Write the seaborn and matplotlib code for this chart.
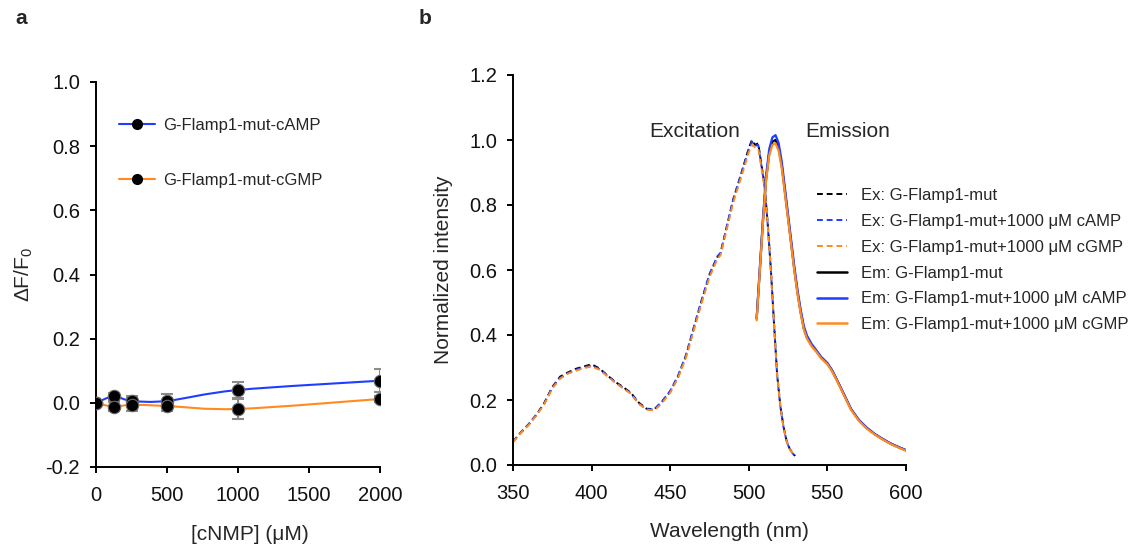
import numpy as np
import pandas as pd
import matplotlib
matplotlib.use("Agg")
import matplotlib.pyplot as plt
from matplotlib.path import Path
from matplotlib.patches import PathPatch
from matplotlib.lines import Line2D
import seaborn as sns

# ---------------- data: panel a ----------------
conc = [0, 125, 250, 500, 1000, 2000]
camp = [0.0, 0.020, 0.006, 0.006, 0.040, 0.069]
camp_err = [0.004, 0.012, 0.015, 0.020, 0.025, 0.035]
cgmp = [0.0, -0.012, -0.006, -0.010, -0.019, 0.012]
cgmp_err = [0.004, 0.015, 0.021, 0.014, 0.031, 0.010]

# ---------------- data: panel b ----------------
ex_wl = [350, 355, 360, 365, 370, 375, 380, 385, 390, 395, 400, 405, 410, 415,
         420, 425, 430, 435, 440, 445, 450, 455, 460, 465, 470, 475, 480, 482,
         485, 490, 495, 500, 502, 504, 506, 508, 510, 512, 514, 516, 518, 520,
         522, 524, 526, 528, 529.5]
ex_mut = [0.072, 0.100, 0.125, 0.155, 0.192, 0.240, 0.272, 0.285, 0.296, 0.303,
          0.310, 0.297, 0.276, 0.256, 0.240, 0.222, 0.192, 0.173, 0.172, 0.196,
          0.226, 0.272, 0.335, 0.420, 0.505, 0.585, 0.640, 0.652, 0.712, 0.815,
          0.893, 0.975, 1.000, 0.985, 0.990, 0.925, 0.862, 0.745, 0.605, 0.440,
          0.280, 0.185, 0.120, 0.075, 0.050, 0.036, 0.028]
ex_camp = [0.072, 0.101, 0.126, 0.156, 0.190, 0.238, 0.268, 0.283, 0.293, 0.301,
           0.306, 0.295, 0.275, 0.255, 0.238, 0.221, 0.190, 0.172, 0.170, 0.197,
           0.228, 0.275, 0.338, 0.424, 0.508, 0.588, 0.642, 0.652, 0.713, 0.816,
           0.893, 0.972, 0.995, 0.982, 0.985, 0.922, 0.860, 0.743, 0.603, 0.438,
           0.278, 0.183, 0.119, 0.074, 0.049, 0.035, 0.027]
ex_cgmp = [0.070, 0.099, 0.123, 0.153, 0.188, 0.236, 0.266, 0.281, 0.290, 0.298,
           0.303, 0.293, 0.273, 0.253, 0.236, 0.219, 0.188, 0.170, 0.168, 0.192,
           0.222, 0.268, 0.330, 0.414, 0.498, 0.578, 0.634, 0.645, 0.705, 0.806,
           0.883, 0.962, 0.985, 0.978, 0.975, 0.915, 0.855, 0.740, 0.600, 0.437,
           0.277, 0.183, 0.119, 0.074, 0.049, 0.035, 0.027]

em_wl = [505, 507, 509, 511, 513, 515, 517, 519, 521, 523, 525, 527, 529, 531,
         533, 535, 537, 540, 543, 546, 550, 553, 556, 560, 565, 570, 575, 580,
         585, 590, 595, 600]
em_mut = [0.450, 0.600, 0.750, 0.880, 0.960, 0.995, 1.000, 0.975, 0.920, 0.840,
          0.760, 0.680, 0.600, 0.530, 0.470, 0.420, 0.392, 0.368, 0.350, 0.330,
          0.312, 0.290, 0.262, 0.222, 0.172, 0.138, 0.114, 0.095, 0.080, 0.066,
          0.055, 0.045]
em_camp = [0.452, 0.605, 0.758, 0.890, 0.972, 1.008, 1.015, 0.990, 0.932, 0.852,
           0.770, 0.690, 0.610, 0.538, 0.478, 0.428, 0.398, 0.372, 0.353, 0.333,
           0.314, 0.292, 0.263, 0.223, 0.173, 0.139, 0.115, 0.096, 0.081, 0.067,
           0.056, 0.046]
em_cgmp = [0.445, 0.595, 0.745, 0.875, 0.953, 0.985, 0.990, 0.966, 0.912, 0.834,
           0.755, 0.675, 0.596, 0.526, 0.466, 0.417, 0.389, 0.365, 0.348, 0.328,
           0.310, 0.288, 0.260, 0.220, 0.170, 0.136, 0.112, 0.094, 0.079, 0.065,
           0.054, 0.044]

BLUE = "#1f3dff"
ORANGE = "#ff8a1f"
BLACK = "#000000"

sns.set_theme(style="ticks")
plt.rcParams["font.family"] = ["Liberation Sans", "DejaVu Sans"]
plt.rcParams["mathtext.fontset"] = "custom"
plt.rcParams["mathtext.rm"] = "Liberation Sans"
plt.rcParams["mathtext.it"] = "Liberation Sans:italic"
plt.rcParams["axes.unicode_minus"] = False

fig = plt.figure(figsize=(11.33, 5.46), dpi=100)
axa = fig.add_axes([96 / 1133, 1 - 467 / 546, 284 / 1133, 385 / 546])
axb = fig.add_axes([513 / 1133, 1 - 465 / 546, 393 / 1133, 390 / 546])

TICK = 14.5
for ax in (axa, axb):
    for s in ("top", "right"):
        ax.spines[s].set_visible(False)
    for s in ("left", "bottom"):
        ax.spines[s].set_linewidth(1.4)
        ax.spines[s].set_color("black")
    ax.tick_params(axis="both", direction="out", length=4.5, width=1.4,
                   color="black", labelsize=TICK, pad=7, labelcolor="#111111")
    ax.tick_params(axis="x", pad=9)
    ax.set_facecolor("white")


def smooth_path(xs, ys):
    """Excel-like smoothed line rendered as cubic Bezier segments."""
    P = np.column_stack([xs, ys]).astype(float)
    n = len(P)
    verts = [P[0]]
    codes = [Path.MOVETO]
    for i in range(n - 1):
        p0 = P[i - 1] if i > 0 else P[i]
        p1 = P[i]
        p2 = P[i + 1]
        p3 = P[i + 2] if i + 2 < n else P[i + 1]
        c1 = p1 + (p2 - p0) / 6.0
        c2 = p2 - (p3 - p1) / 6.0
        verts += [c1, c2, p2]
        codes += [Path.CURVE4] * 3
    return Path(verts, codes)


# ---------------- panel a ----------------
for y, col in ((camp, BLUE), (cgmp, ORANGE)):
    axa.add_patch(PathPatch(smooth_path(conc, y), facecolor="none",
                            edgecolor=col, lw=1.5, zorder=2))
for y, e in ((camp, camp_err), (cgmp, cgmp_err)):
    axa.errorbar(conc, y, yerr=e, fmt="none", ecolor="#8c8c8c", elinewidth=1.5,
                 capsize=4.5, capthick=1.5, zorder=3)
dfa = pd.DataFrame({"conc": conc * 2, "val": camp + cgmp})
sns.scatterplot(data=dfa, x="conc", y="val", ax=axa, color="black", s=80,
                edgecolor="#6a6a6a", linewidth=0.8, zorder=4, legend=False)

axa.set_xlim(0, 2000)
axa.set_ylim(-0.2, 1.0)
axa.set_xticks([0, 500, 1000, 1500, 2000])
axa.set_yticks([-0.2, 0.0, 0.2, 0.4, 0.6, 0.8, 1.0])
axa.set_yticklabels(["-0.2", "0.0", "0.2", "0.4", "0.6", "0.8", "1.0"])
axa.set_xlabel("[cNMP] (μM)", fontsize=15)
axa.set_ylabel("ΔF/F$_0$", fontsize=15)
axa.xaxis.set_label_coords(0.542, -0.15)
axa.yaxis.set_label_coords(-0.215, 0.5)

ha = [Line2D([], [], color=BLUE, lw=1.5, marker="o", markersize=7,
             markerfacecolor="black", markeredgecolor="black"),
      Line2D([], [], color=ORANGE, lw=1.5, marker="o", markersize=7,
             markerfacecolor="black", markeredgecolor="black")]
axa.legend(ha, ["G-Flamp1-mut-cAMP", "G-Flamp1-mut-cGMP"], loc="upper left",
           bbox_to_anchor=(0.08, 0.907), frameon=False, fontsize=12,
           handlelength=2.2, handletextpad=0.45, labelspacing=2.41,
           borderpad=0, borderaxespad=0, numpoints=1)

# ---------------- panel b ----------------
ex_series = [("Ex: G-Flamp1-mut", ex_mut, BLACK),
             ("Ex: G-Flamp1-mut+1000 μM cAMP", ex_camp, BLUE),
             ("Ex: G-Flamp1-mut+1000 μM cGMP", ex_cgmp, ORANGE)]
em_series = [("Em: G-Flamp1-mut", em_mut, BLACK),
             ("Em: G-Flamp1-mut+1000 μM cAMP", em_camp, BLUE),
             ("Em: G-Flamp1-mut+1000 μM cGMP", em_cgmp, ORANGE)]

handles = []
labels = []
for lab, vals, col in ex_series:
    d = pd.DataFrame({"wl": ex_wl, "I": vals})
    sns.lineplot(data=d, x="wl", y="I", ax=axb, color=col, lw=1.4,
                 sort=False, estimator=None, legend=False,
                 dashes=False, linestyle=(0, (3, 2)))
    handles.append(Line2D([], [], color=col, lw=1.4, linestyle=(0, (3, 2))))
    labels.append(lab)
for lab, vals, col in em_series:
    d = pd.DataFrame({"wl": em_wl, "I": vals})
    sns.lineplot(data=d, x="wl", y="I", ax=axb, color=col, lw=1.6,
                 sort=False, estimator=None, legend=False)
    handles.append(Line2D([], [], color=col, lw=1.8))
    labels.append(lab)

axb.set_xlim(350, 600)
axb.set_ylim(0, 1.2)
axb.set_xticks([350, 400, 450, 500, 550, 600])
axb.set_yticks([0.0, 0.2, 0.4, 0.6, 0.8, 1.0, 1.2])
axb.set_yticklabels(["0.0", "0.2", "0.4", "0.6", "0.8", "1.0", "1.2"])
axb.set_xlabel("Wavelength (nm)", fontsize=15)
axb.set_ylabel("Normalized intensity", fontsize=15)
axb.xaxis.set_label_coords(0.55, -0.145)
axb.yaxis.set_label_coords(-0.152, 0.5)

axb.text(0.463, 0.856, "Excitation", transform=axb.transAxes, fontsize=15,
         ha="center", va="center")
axb.text(0.852, 0.856, "Emission", transform=axb.transAxes, fontsize=15,
         ha="center", va="center")

axb.legend(handles, labels, loc="upper left", bbox_to_anchor=(0.774, 0.71),
           frameon=False, fontsize=12, handlelength=1.8, handletextpad=0.8,
           labelspacing=0.65, borderpad=0, borderaxespad=0)

fig.text(15 / 1133, 1 - 19 / 546, "a", fontsize=15, fontweight="bold",
         ha="left", va="center")
fig.text(419 / 1133, 1 - 19 / 546, "b", fontsize=15, fontweight="bold",
         ha="left", va="center")

fig.savefig("out.png", dpi=100, facecolor="white")
